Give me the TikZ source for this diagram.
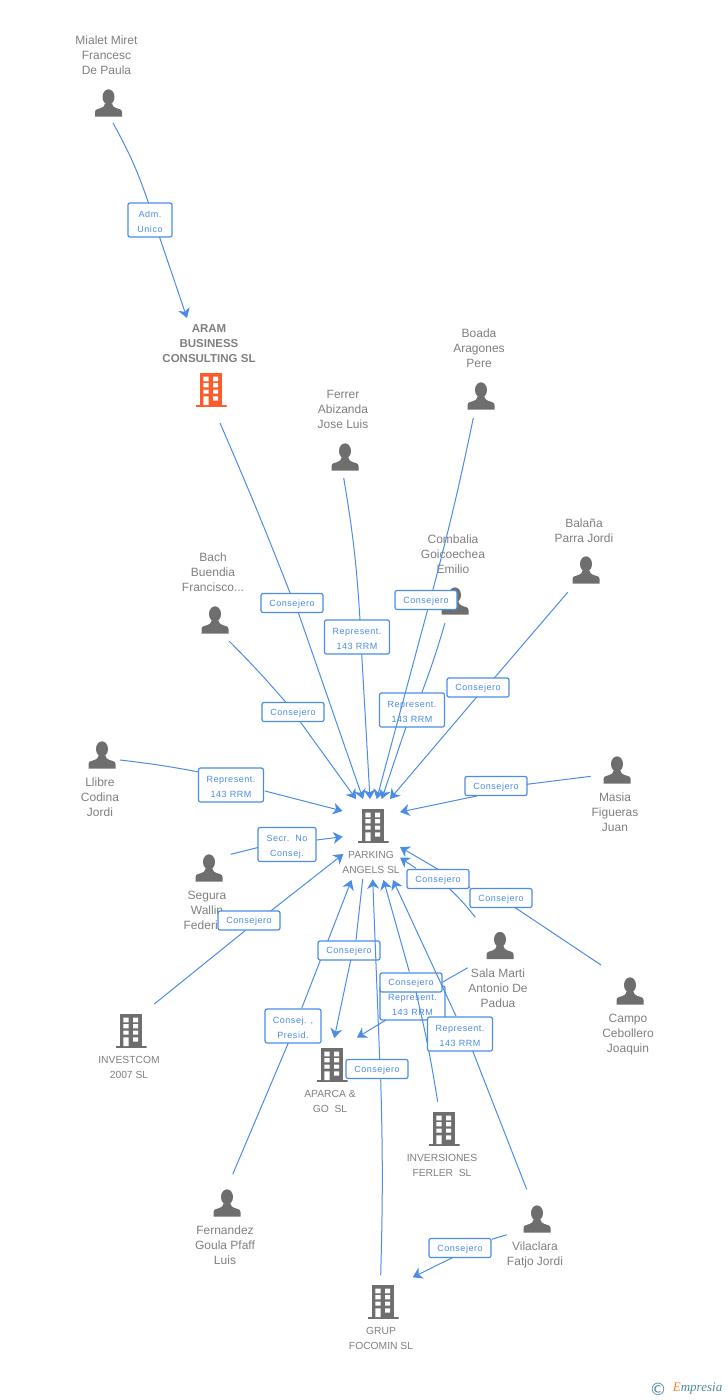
\documentclass[tikz,border=0pt]{standalone}
\usepackage{fontspec}
\setmainfont{Liberation Sans}
\newfontfamily\lbfont[LetterSpace=6]{Liberation Sans}
\newfontfamily\markfont{DejaVu Sans}
\newfontfamily\brandfont{Liberation Serif}
\usepackage{xcolor}
\usetikzlibrary{positioning,arrows.meta}

\definecolor{icongray}{HTML}{6E6E6E}
\definecolor{namegray}{HTML}{7F7F7F}
\definecolor{linkblue}{HTML}{4A8CE6}
\definecolor{rootred}{HTML}{FF5A2A}
\definecolor{brandteal}{HTML}{4C8CA0}
\definecolor{brandorange}{HTML}{F5821F}

\newcommand{\officeicon}[1]{%
  \begin{scope}[shift={(path picture bounding box.center)}]
    \fill[#1] (-11,-17) rectangle (11,15);
    \fill[#1] (-15.5,15) rectangle (15.5,17);
    \fill[white] (-7.7,-13.3) rectangle (-2.4,-8.7) (2,-13.3) rectangle (7,-8.7);
    \fill[white] (-7.7,-7) rectangle (-2.4,-2.7) (2,-7) rectangle (7,-2.7);
    \fill[white] (-7.7,-0.3) rectangle (-2.4,3.7) (2,-0.3) rectangle (7,3.7);
    \fill[white] (-7.7,6.3) rectangle (-2.4,15) (2,6.3) rectangle (7,10.7);
  \end{scope}}

\begin{document}
\begin{tikzpicture}[x=1pt, y=-1pt,
    ->,
    >={Stealth[length=9.5pt, width=12pt, inset=3pt]},
    every edge/.append style={draw=linkblue, line width=1pt},
    man/.style={%
      rectangle, minimum width=27pt, minimum height=27pt, inner sep=0pt,
      path picture={
        \begin{scope}[shift={(path picture bounding box.center)}]
          \fill[icongray] (0,-6) ellipse (6 and 7.7);
          \fill[icongray] (-13.5,13.5) -- (-13.5,9) .. controls (-13.5,6) and (-10,6) .. (-7,4.8)
            .. controls (-5,4) and (-4,3) .. (-3.5,0.5) -- (3.5,0.5)
            .. controls (4,3) and (5,4) .. (7,4.8) .. controls (10,6) and (13.5,6) .. (13.5,9)
            -- (13.5,13.5) -- cycle;
        \end{scope}}
    },
    office/.style={%
      rectangle, minimum width=31pt, minimum height=34pt, inner sep=0pt,
      path picture={\officeicon{#1}}
    },
    office/.default=icongray,
    who/.style={%
      inner sep=0pt, align=center, text=namegray, xshift=-2pt,
      font=\fontsize{12}{15}\selectfont
    },
    firm/.style={%
      inner sep=0pt, align=center, text=namegray, xshift=-2pt,
      font=\fontsize{10.3}{15}\selectfont
    },
    lb/.style={%
      rectangle, rounded corners=2pt, draw=linkblue, line width=1.2pt, fill=white,
      text=linkblue, inner sep=2pt, align=center, minimum width=62pt, minimum height=19pt,
      text height=8pt, text depth=1.4pt,
      font=\lbfont\fontsize{9}{15}\selectfont
    },
    lbb/.style={lb, minimum width=65pt, minimum height=34pt, text height=24.5pt, text depth=0pt}
]
    \useasboundingbox (0,0) rectangle (728,1400);

    % people
    \node[man] (mialet)    at (108.5,103) {};
    \node[man] (boada)     at (481,396)   {};
    \node[man] (ferrer)    at (345,457)   {};
    \node[man] (balana)    at (586,570)   {};
    \node[man] (combalia)  at (455,601)   {};
    \node[man] (bach)      at (215,620)   {};
    \node[man] (llibre)    at (102,755)   {};
    \node[man] (masia)     at (617,770)   {};
    \node[man] (segura)    at (209,868)   {};
    \node[man] (sala)      at (500,945.5) {};
    \node[man] (campo)     at (630,991)   {};
    \node[man] (fernandez) at (227,1203)  {};
    \node[man] (vilaclara) at (537,1219)  {};

    \node[who] (mialet t)    [above = 14pt of mialet]    {Mialet Miret\\Francesc\\De Paula};
    \node[who] (boada t)     [above = 14pt of boada]     {Boada\\Aragones\\Pere};
    \node[who] (ferrer t)    [above = 14pt of ferrer]    {Ferrer\\Abizanda\\Jose Luis};
    \node[who] (balana t)    [above = 13pt of balana]    {Balaña\\Parra Jordi};
    \node[who] (combalia t)  [above = 13pt of combalia]  {Combalia\\Goicoechea\\Emilio};
    \node[who] (bach t)      [above = 14pt of bach]      {Bach\\Buendia\\Francisco...};
    \node[who] (llibre t)    [below = 9pt of llibre]     {Llibre\\Codina\\Jordi};
    \node[who] (masia t)     [below = 9pt of masia]      {Masia\\Figueras\\Juan};
    \node[who] (segura t)    [below = 9pt of segura]     {Segura\\Wallin\\Federico};
    \node[who] (sala t)      [below = 9pt of sala]       {Sala Marti\\Antonio De\\Padua};
    \node[who] (campo t)     [below = 9pt of campo]      {Campo\\Cebollero\\Joaquin};
    \node[who] (fernandez t) [below = 9pt of fernandez]  {Fernandez\\Goula Pfaff\\Luis};
    \node[who] (vilaclara t) [below = 9pt of vilaclara]  {Vilaclara\\Fatjo Jordi};

    % companies
    \node[office=rootred] (aram) at (211,390)   {};
    \node[office] (parking)      at (373,826)   {};
    \node[office] (investcom)    at (131,1031)  {};
    \node[office] (aparca)       at (332,1065)  {};
    \node[office] (inversiones)  at (444,1129)  {};
    \node[office] (grup)         at (383,1302)  {};

    \node[who, font=\bfseries\fontsize{11.5}{15}\selectfont] (aram t) [above = 9.7pt of aram] {ARAM\\BUSINESS\\CONSULTING SL};
    \node[firm] (parking t)     [below = 8pt of parking]     {PARKING\\ANGELS SL};
    \node[firm] (investcom t)   [below = 8pt of investcom]   {INVESTCOM\\2007 SL};
    \node[firm] (aparca t)      [below = 8pt of aparca]      {APARCA \&\\GO\ \ SL};
    \node[firm] (inversiones t) [below = 8pt of inversiones] {INVERSIONES\\FERLER\ \ SL};
    \node[firm] (grup t)        [below = 8pt of grup]        {GRUP\\FOCOMIN SL};

    % links, one box and its two pieces at a time
    \node[lbb, minimum width=44pt] (adm) at (150,220) {Adm.\\Unico};
    \path ([shift={(4.5,20)}]mialet.center) edge[-, bend left=5] ([shift={(-1.5,-17)}]adm.center)
          ([shift={(9.5,17)}]adm.center) edge ([shift={(-24,-72)}]aram.center);

    \node[lb] (aramc) at (292,603) {Consejero};
    \path ([shift={(9,33)}]aram.center) edge[-, bend left=1] ([shift={(-1.7,-9.5)}]aramc.center)
          ([shift={(6.3,9.5)}]aramc.center) edge ([shift={(-10,-27)}]parking.center);

    \node[lbb] (ferrerr) at (357,637) {Represent.\\143 RRM};
    \path ([shift={(-1.3,21)}]ferrer.center) edge[-, bend left=3] ([shift={(3,-17)}]ferrerr.center)
          ([shift={(4.7,17)}]ferrerr.center) edge ([shift={(-3,-27)}]parking.center);

    \node[lb] (bachc) at (293,712) {Consejero};
    \path ([shift={(14,21)}]bach.center) edge[-, bend left=2] ([shift={(-7,-9.5)}]bachc.center)
          ([shift={(7,9.5)}]bachc.center) edge ([shift={(-17,-27)}]parking.center);

    \node[lbb] (combaliar) at (412,710) {Represent.\\143 RRM};
    \path ([shift={(-10,22)}]combalia.center) edge[-, bend left=2] ([shift={(9.7,-17)}]combaliar.center)
          ([shift={(-6,17)}]combaliar.center) edge ([shift={(8.7,-27)}]parking.center);

    \node[lb] (boadac) at (426,600) {Consejero};
    \path ([shift={(-7.7,22)}]boada.center) edge[-, bend left=1.5] ([shift={(6.7,-9.5)}]boadac.center)
          ([shift={(1.7,9.5)}]boadac.center) edge ([shift={(3.7,-27)}]parking.center);

    \node[lb] (balanac) at (478,687.5) {Consejero};
    \path ([shift={(-18.3,22.3)}]balana.center) edge[-] ([shift={(16.3,-9.5)}]balanac.center)
          ([shift={(-1.3,9.5)}]balanac.center) edge ([shift={(17,-27)}]parking.center);

    \node[lbb] (llibrer) at (231,785) {Represent.\\143 RRM};
    \path ([shift={(18,5)}]llibre.center) edge[-, bend left=2] ([shift={(-32,-13)}]llibrer.center)
          ([shift={(34,6)}]llibrer.center) edge ([shift={(-30.5,-15)}]parking.center);

    \node[lb] (masiac) at (496,786) {Consejero};
    \path ([shift={(-26.3,6.3)}]masia.center) edge[-] ([shift={(31,-1.7)}]masiac.center)
          ([shift={(-19.3,10)}]masiac.center) edge ([shift={(27,-14)}]parking.center);

    \node[lbb, minimum width=58pt] (segurac) at (287,844.5) {Secr.\ \ No\\Consej.};
    \path ([shift={(21.7,-13.7)}]segura.center) edge[-] ([shift={(-29,3)}]segurac.center)
          ([shift={(29.7,-4.5)}]segurac.center) edge ([shift={(-30.3,10.7)}]parking.center);

    \node[lb] (investc) at (249,920.5) {Consejero};
    \path ([shift={(23.3,-27)}]investcom.center) edge[-] ([shift={(-3.7,10)}]investc.center)
          ([shift={(21.7,-9.5)}]investc.center) edge ([shift={(-29.7,28)}]parking.center);

    \node[lb] (campoc) at (501,898) {Consejero};
    \path ([shift={(-29,-26)}]campo.center) edge[-] ([shift={(14,9.5)}]campoc.center)
          ([shift={(-31,-10)}]campoc.center) edge ([shift={(27,21)}]parking.center);

    \node[lb] (salac) at (438,879) {Consejero};
    \path ([shift={(-24.7,-28.2)}]sala.center) edge[-, bend right=4] ([shift={(11.3,9.5)}]salac.center)
          ([shift={(-22,-10.7)}]salac.center) edge ([shift={(27,31.5)}]parking.center);

    \node[lbb, minimum width=56pt] (fernandezc) at (293,1026) {Consej. ,\\Presid.};
    \path ([shift={(5.7,-28.7)}]fernandez.center) edge[-] ([shift={(-4.7,17)}]fernandezc.center)
          ([shift={(8.7,-17.7)}]fernandezc.center) edge ([shift={(-21.5,54)}]parking.center);

    \node[lb] (aparcac) at (349,950.5) {Consejero};
    \path ([shift={(-10.3,53)}]parking.center) edge[-] ([shift={(7,-10.5)}]aparcac.center)
          ([shift={(1.7,9.5)}]aparcac.center) edge ([shift={(2.3,-27)}]aparca.center);

    \node[lbb] (salar) at (412.5,1003) {Represent.\\143 RRM};
    \path ([shift={(-32.3,22.2)}]sala.center) edge[-] ([shift={(29,-20.3)}]salar.center)
          ([shift={(-26.5,17)}]salar.center) edge ([shift={(25,-27.5)}]aparca.center);

    \node[lb] (inverc) at (411,982.5) {Consejero};
    \path ([shift={(-6.3,-27.3)}]inversiones.center) edge[-, bend right=2] ([shift={(5,9.5)}]inverc.center)
          ([shift={(-1.7,-10.8)}]inverc.center) edge ([shift={(10.5,54)}]parking.center);

    \node[lbb] (vilar) at (460,1034) {Represent.\\143 RRM};
    \path ([shift={(-10.3,-29.7)}]vilaclara.center) edge[-] ([shift={(12.7,17)}]vilar.center)
          ([shift={(-4,-18)}]vilar.center) edge ([shift={(20,54)}]parking.center);

    \node[lb] (grupc) at (377,1069) {Consejero};
    \path ([shift={(-2.3,-27)}]grup.center) edge[-, bend right=1.6] ([shift={(3.7,10.3)}]grupc.center)
          ([shift={(2.7,-10)}]grupc.center) edge ([shift={(-0.3,53.3)}]parking.center);

    \node[lb] (vilac) at (460,1248) {Consejero};
    \path ([shift={(-30.3,15.7)}]vilaclara.center) edge[-] ([shift={(31.7,-8.7)}]vilac.center)
          ([shift={(-7.7,9.7)}]vilac.center) edge ([shift={(29.7,-24.7)}]grup.center);

    % footer
    \node[inner sep=0pt, text=brandteal, font=\markfont\fontsize{17}{17}\selectfont] (copy) at (658,1389) {©};
    \node[inner sep=0pt, text=brandteal, font=\brandfont\itshape\fontsize{13}{13}\selectfont] (brand) [right = 6pt of copy]
      {\textcolor{brandorange}{E}mpresia};
\end{tikzpicture}
\end{document}
